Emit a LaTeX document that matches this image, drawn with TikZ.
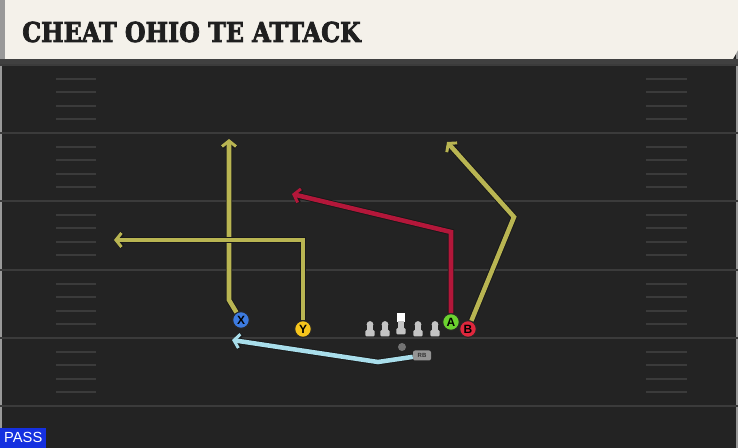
\documentclass[tikz,border=0pt]{standalone}
\usepackage{fontspec}
\setsansfont{Liberation Sans}
\newfontfamily\titlefont{DejaVu Serif}[BoldFeatures={FakeBold=3}]
\usetikzlibrary{arrows.meta}
\definecolor{fieldgray}{HTML}{232323}
\definecolor{yardgray}{HTML}{3B3B3B}
\definecolor{titlecream}{HTML}{F4F1EA}
\definecolor{routeolive}{HTML}{B9B552}
\definecolor{routered}{HTML}{B3173A}
\definecolor{routeblue}{HTML}{A9DEEB}
\definecolor{xblue}{HTML}{3D7BE0}
\definecolor{yyellow}{HTML}{F6C51C}
\definecolor{agreen}{HTML}{6BD22F}
\definecolor{bred}{HTML}{E0273D}
\definecolor{linegray}{HTML}{C4C4C4}
\definecolor{passblue}{HTML}{1530E0}

\begin{document}
\begin{tikzpicture}[x=0.75pt, y=-0.75pt, >={Straight Barb[length=4.2pt,width=10.5pt,line width=2.2pt]},
  player/.style={draw=black!85, line width=0.8pt, circle, inner sep=0pt, minimum size=12.5pt, font=\sffamily\bfseries\small},
  route/.style={line width=3.4pt, ->, preaction={draw=black!90, line width=4.8pt, -{Straight Barb[length=4.2pt,width=10.5pt,line width=3.4pt]}}},
  yard/.style={draw=yardgray, line width=1.5pt},
  hash/.style={draw=yardgray, line width=1.4pt}]
\def\hashstep{13.6}

%Field
\useasboundingbox (0,0) rectangle (738,448);
\fill[fieldgray] (0,0) rectangle (738,448);
\fill[black!40] (0,0) rectangle (2,448);
\fill[black!40] (736,0) rectangle (738,448);
\fill[black!75] (0,59) rectangle (738,64);
\foreach \yl in {65,133,201,270,338,406} {
  \draw[yard] (0,\yl) -- (738,\yl);
}
\foreach \yl in {65,133,201,270,338} {
  \foreach \k in {1,...,4} {
    \draw[hash] (56,\yl+\k*\hashstep) -- (96,\yl+\k*\hashstep);
    \draw[hash] (646,\yl+\k*\hashstep) -- (687,\yl+\k*\hashstep);
  }
}

%Title
\fill[black!40] (0,0) rectangle (5,59);
\fill[titlecream] (5,0) -- (738,0) -- (738,50) -- (733,59) -- (5,59) -- cycle;
\node (title) [anchor=west, inner sep=0pt, text=black!88] at (22,32) {\scalebox{0.87}[1]{\titlefont\bfseries\fontsize{20.5}{20.5}\selectfont CHEAT OHIO TE ATTACK}};

%Line
\foreach \lx in {370,385,418,435} {
  \fill[linegray] (\lx,324.5) circle (3.4);
  \fill[linegray] (\lx-3,324.5) rectangle (\lx+3,331);
  \fill[linegray, rounded corners=1] (\lx-4.6,330) rectangle (\lx+4.6,336.5);
}
\fill[white] (397,313) rectangle (405,322);
\fill[linegray] (398,321) rectangle (404,329);
\fill[linegray, rounded corners=1] (396.4,328) rectangle (405.6,334.5);
\node (qb) [circle, fill=black!55, inner sep=0pt, minimum size=6pt] at (402,347) {};
\node (rb) [fill=black!42, rounded corners=1.5pt, inner sep=0pt, minimum width=13.5pt, minimum height=7.5pt, font=\sffamily\bfseries\fontsize{4.5}{4.5}\selectfont, text=black!80] at (422,355.5) {RB};

%Receivers
\node (X) [player, fill=xblue] at (241,320) {X};
\node (Y) [player, fill=yyellow] at (303,329) {Y};
\node (A) [player, fill=agreen] at (451,322) {A};
\node (B) [player, fill=bred] at (468,329) {B};

%Routes
\coordinate (xb) at (229,300);
\coordinate (xe) at (229,139);
\coordinate (yb) at (303,240);
\coordinate (ye) at (114,240);
\coordinate (ab) at (451,232);
\coordinate (ae) at (292,194);
\coordinate (bb) at (514,217);
\coordinate (be) at (447,142);
\coordinate (rbb) at (378,362);
\coordinate (rbe) at (232,340);

\draw[route, draw=routeolive] (X) -- (xb) -- (xe);
\draw[route, draw=routeolive] (Y) -- (yb) -- (ye);
\draw[route, draw=routered] (A) -- (ab) -- (ae);
\draw[route, draw=routeolive] (B) -- (bb) -- (be);
\draw[route, draw=routeblue] (rb) -- (rbb) -- (rbe);

%Play type
\node (pass) [anchor=south west, fill=passblue, text=white, inner sep=0pt, minimum width=34.5pt, minimum height=15pt, font=\sffamily\fontsize{11}{11}\selectfont] at (0,448) {PASS};
\end{tikzpicture}
\end{document}
